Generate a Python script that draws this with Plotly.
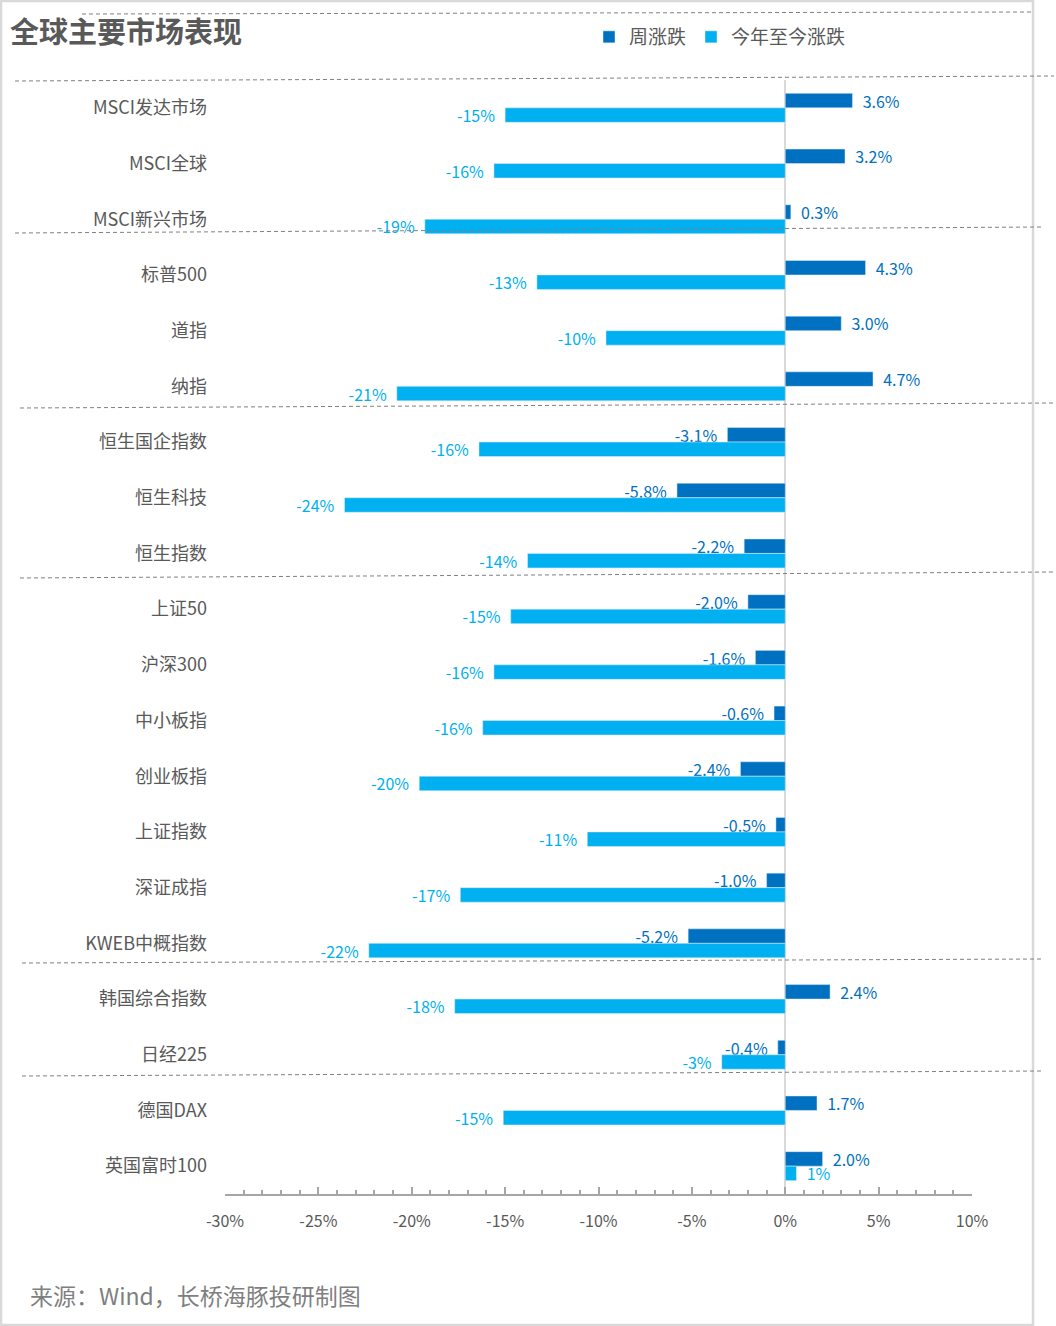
import plotly.graph_objects as go

# ---------------- data ----------------
categories = ["MSCI发达市场", "MSCI全球", "MSCI新兴市场", "标普500", "道指", "纳指",
              "恒生国企指数", "恒生科技", "恒生指数", "上证50", "沪深300", "中小板指",
              "创业板指", "上证指数", "深证成指", "KWEB中概指数", "韩国综合指数", "日经225",
              "德国DAX", "英国富时100"]
weekly = [3.6, 3.2, 0.3, 4.3, 3.0, 4.7, -3.1, -5.8, -2.2, -2.0, -1.6, -0.6,
          -2.4, -0.5, -1.0, -5.2, 2.4, -0.4, 1.7, 2.0]
ytd = [-15.0, -15.6, -19.3, -13.3, -9.6, -20.8, -16.4, -23.6, -13.8, -14.7, -15.6, -16.2,
       -19.6, -10.6, -17.4, -22.3, -17.7, -3.4, -15.1, 0.6]
series_names = ["周涨跌", "今年至今涨跌"]
tick_vals = [-30, -25, -20, -15, -10, -5, 0, 5, 10]
tick_text = ["-30%", "-25%", "-20%", "-15%", "-10%", "-5%", "0%", "5%", "10%"]

DARK = "#0070C0"
LIGHT = "#00B0F0"
GREY_TXT = "#595959"
FONT = "Noto Sans CJK SC, Noto Sans, sans-serif"

# figure geometry (pixels)
W, H = 1056, 1326
L, R, T, B = 225, 84, 80, 132
PW, PH = W - L - R, H - T - B


def px(x):
    return (x - L) / PW


def py(y):
    return 1 - (y - T) / PH


NB = "\u00a0\u00a0"


def labels(vals, dec):
    out = []
    for v in vals:
        s = f"{v:.{dec}f}%"
        out.append(NB + s if v >= 0 else s + NB)
    return out


fig = go.Figure()
fig.add_bar(y=categories, x=weekly, orientation="h", name=series_names[0],
            marker_color=DARK, text=labels(weekly, 1), textposition="outside",
            textfont=dict(color=DARK, size=16, family=FONT),
            constraintext="none", cliponaxis=False, hoverinfo="skip")
fig.add_bar(y=categories, x=ytd, orientation="h", name=series_names[1],
            marker_color=LIGHT, text=labels(ytd, 0), textposition="outside",
            textfont=dict(color=LIGHT, size=16, family=FONT),
            constraintext="none", cliponaxis=False, hoverinfo="skip")

# dashed separator lines (pixel endpoints)
seps = [((82, 14), (1033, 12)),
        ((15, 81), (1054, 76)),
        ((15, 233), (1042, 227)),
        ((20, 408), (1054, 403)),
        ((20, 578), (1054, 572)),
        ((22, 963), (1044, 959)),
        ((22, 1076), (1044, 1071))]
shapes = []
for (x0, y0), (x1, y1) in seps:
    shapes.append(dict(type="line", xref="paper", yref="paper",
                       x0=px(x0), y0=py(y0), x1=px(x1), y1=py(y1),
                       line=dict(color="#808080", width=1, dash="4px,3px"),
                       layer="above"))
# outer frame
shapes.append(dict(type="rect", xref="paper", yref="paper",
                   x0=px(1), y0=py(1), x1=px(1033), y1=py(1325),
                   line=dict(color="#d9d9d9", width=2.5), layer="below"))

fig.update_layout(
    width=W, height=H,
    margin=dict(l=L, r=R, t=T, b=B, pad=0),
    paper_bgcolor="white", plot_bgcolor="white",
    font=dict(family=FONT, color=GREY_TXT),
    barmode="group", bargap=0.48, bargroupgap=0,
    title=dict(text="<b>全球主要市场表现</b>", x=10 / W, xref="container", xanchor="left",
               y=1 - 33 / H, yref="container", yanchor="middle",
               font=dict(size=29, color=GREY_TXT, family=FONT)),
    legend=dict(orientation="h", x=px(589), xanchor="left", y=py(37), yanchor="middle",
                font=dict(size=19, color=GREY_TXT, family=FONT),
                bgcolor="rgba(0,0,0,0)", itemwidth=30, traceorder="normal"),
    shapes=shapes,
    annotations=[dict(text="来源：Wind，长桥海豚投研制图", xref="paper", yref="paper",
                      x=px(28), y=py(1295), xanchor="left", yanchor="middle",
                      showarrow=False, font=dict(size=23, color="#7f7f7f", family=FONT))],
    showlegend=True,
)
fig.update_yaxes(type="category", autorange="reversed", showgrid=False, ticks="",
                 showline=False, zeroline=False,
                 tickfont=dict(size=18, color=GREY_TXT, family=FONT), ticklabelstandoff=17)
fig.update_xaxes(range=[-30, 10], tickmode="array", tickvals=tick_vals, ticktext=tick_text,
                 showgrid=False, zeroline=True, zerolinecolor="#d9d9d9", zerolinewidth=2,
                 showline=True, linecolor="#a6a6a6", linewidth=2,
                 ticks="inside", ticklen=7, tickwidth=1.5, tickcolor="#a6a6a6",
                 minor=dict(dtick=1, tick0=0, ticks="inside", ticklen=4, tickwidth=1.5,
                            tickcolor="#a6a6a6", showgrid=False),
                 tickfont=dict(size=16, color=GREY_TXT, family=FONT), ticklabelstandoff=12)

fig.write_html("out.html", config={"displayModeBar": False},
               post_script="document.body.style.margin='0';")
